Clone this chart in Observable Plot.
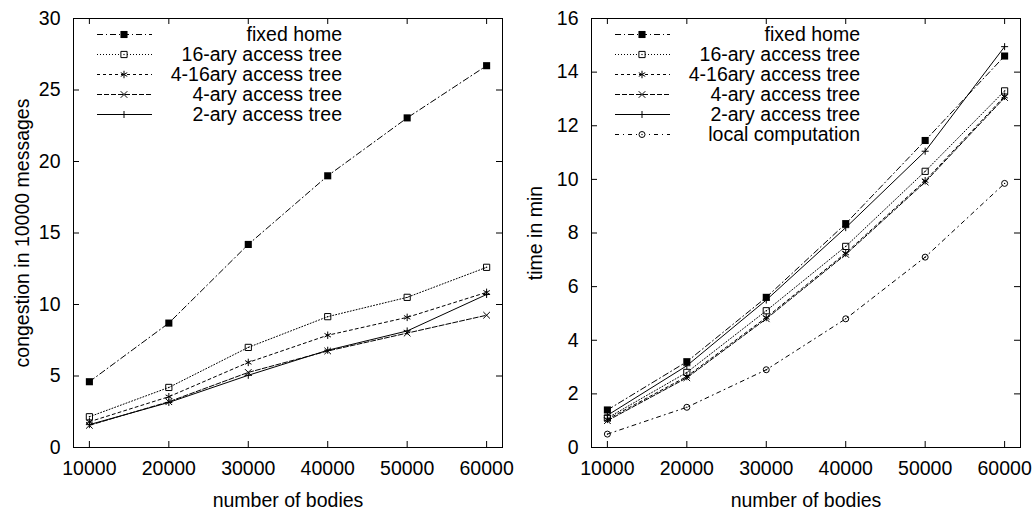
<!DOCTYPE html>
<html><head><meta charset="utf-8">
<script src="https://cdn.jsdelivr.net/npm/d3@7"></script>
<script src="https://cdn.jsdelivr.net/npm/@observablehq/plot@0.6"></script>
<style>
body{margin:0;background:#fff;}
#wrap{position:relative;width:1034px;height:513px;display:flex;}
#wrap svg{display:block;}
#wrap svg text{font-size:19.5px;font-family:'Liberation Sans', Arial, Helvetica, sans-serif;}
</style></head><body><div id="wrap"></div>
<script>
// ---- data ----
const bodies = [10000, 20000, 30000, 40000, 50000, 60000];
const xTicks = [10000, 20000, 30000, 40000, 50000, 60000];
const congestionTicks = [0, 5, 10, 15, 20, 25, 30];
const timeTicks = [0, 2, 4, 6, 8, 10, 12, 14, 16];

const congFixedHome = [4.6, 8.7, 14.2, 19.0, 23.05, 26.7];
const cong16ary     = [2.15, 4.2, 7.0, 9.15, 10.5, 12.6];
const cong4_16ary   = [1.8, 3.55, 5.95, 7.85, 9.1, 10.85];
const cong4ary      = [1.55, 3.2, 5.25, 6.75, 8.0, 9.25];
const cong2ary      = [1.6, 3.15, 5.05, 6.8, 8.15, 10.7];

const timeFixedHome = [1.4, 3.2, 5.6, 8.35, 11.45, 14.6];
const time16ary     = [1.1, 2.8, 5.1, 7.5, 10.3, 13.3];
const time4_16ary   = [1.05, 2.65, 4.85, 7.25, 9.95, 13.1];
const time4ary      = [1.0, 2.6, 4.8, 7.2, 9.9, 13.05];
const time2ary      = [1.2, 3.05, 5.5, 8.2, 11.05, 14.95];
const timeLocal     = [0.5, 1.5, 2.9, 4.8, 7.1, 9.85];

const leftSeries  = ["fixed home", "16-ary access tree", "4-16ary access tree", "4-ary access tree", "2-ary access tree"];
const rightSeries = ["fixed home", "16-ary access tree", "4-16ary access tree", "4-ary access tree", "2-ary access tree", "local computation"];

// ---- styles ----
const FONT = "'Liberation Sans', Arial, Helvetica, sans-serif";
const FS = 19.5;
const sty = {
  "fixed home":          {dash: "6,3,1,3", symbol: "square",   r: 4.0, filled: true},
  "16-ary access tree":  {dash: "1,2",     symbol: "square",   r: 3.5, filled: false, center: true},
  "4-16ary access tree": {dash: "3,3",     symbol: "asterisk", r: 3.5, filled: false},
  "4-ary access tree":   {dash: "5,2",     symbol: "times",    r: 3.1, filled: false},
  "2-ary access tree":   {dash: null,      symbol: "plus",     r: 2.4, filled: false},
  "local computation":   {dash: "4,4,1,4", symbol: "circle",   r: 3.0, filled: false, center: true}
};
const d3sym = {square: d3.symbolSquare, asterisk: d3.symbolAsterisk, times: d3.symbolTimes, plus: d3.symbolPlus, circle: d3.symbolCircle};

function panel({names, values, yDomain, yTicks, yLabel, W, mL, mR, labelDx}) {
  const H = 513, mT = 18, mB = 66;
  const plotW = W - mL - mR, plotH = H - mT - mB;
  const marks = [];
  names.forEach((n, i) => {
    const rows = bodies.map((b, j) => ({x: b, y: values[i][j]}));
    const s = sty[n];
    marks.push(Plot.line(rows, {x: "x", y: "y", stroke: "black", strokeWidth: 1, strokeDasharray: s.dash || undefined}));
    marks.push(Plot.dot(rows, {x: "x", y: "y", symbol: s.symbol, r: s.r,
      fill: s.filled ? "black" : "none", stroke: s.filled ? "none" : "black", strokeWidth: 1}));
    if (s.center) marks.push(Plot.dot(rows, {x: "x", y: "y", r: 0.7, fill: "black", stroke: "none"}));
  });
  const svg = Plot.plot({
    width: W, height: H,
    marginLeft: mL, marginRight: mR, marginTop: mT, marginBottom: mB,
    style: {fontFamily: FONT, fontSize: FS + "px", color: "black", background: "white", overflow: "visible"},
    x: {domain: [8000, 62000]},
    y: {domain: yDomain},
    marks: [
      Plot.frame({stroke: "black", strokeWidth: 1}),
      Plot.tickX(xTicks, {x: d => d, insetTop: plotH - 6, stroke: "black"}),
      Plot.tickX(xTicks, {x: d => d, insetBottom: plotH - 6, stroke: "black"}),
      Plot.tickY(yTicks, {y: d => d, insetRight: plotW - 6, stroke: "black"}),
      Plot.tickY(yTicks, {y: d => d, insetLeft: plotW - 6, stroke: "black"}),
      Plot.axisX({ticks: xTicks, tickFormat: d => String(d), tickSize: 0, tickPadding: 14, label: null, fontSize: FS}),
      Plot.axisY({ticks: yTicks, tickFormat: d => String(d), tickSize: 0, tickPadding: 13, label: null, fontSize: FS}),
      ...marks,
      Plot.text(["number of bodies"], {text: d => d, frameAnchor: "bottom", lineAnchor: "middle", textAnchor: "middle", dy: 53, fontSize: FS, fill: "black"}),
      Plot.text([yLabel], {text: d => d, frameAnchor: "left", textAnchor: "middle", lineAnchor: "middle", dx: labelDx, rotate: -90, fontSize: FS, fill: "black"})
    ]
  });
  // legend
  const lg = d3.select(svg).append("g").attr("font-family", FONT).attr("font-size", FS);
  names.forEach((n, i) => {
    const s = sty[n];
    const y = mT + 16.5 + i * 20;
    const x0 = mL + 24, x1 = mL + 79, xm = mL + 51;
    lg.append("line").attr("x1", x0).attr("x2", x1).attr("y1", y).attr("y2", y)
      .attr("stroke", "black").attr("stroke-width", 1).attr("stroke-dasharray", s.dash);
    lg.append("path").attr("transform", `translate(${xm},${y})`)
      .attr("d", d3.symbol(d3sym[s.symbol], s.r * s.r * Math.PI)())
      .attr("fill", s.filled ? "black" : (s.center ? "white" : "none")).attr("stroke", s.filled ? "none" : "black");
    if (s.center) lg.append("circle").attr("cx", xm).attr("cy", y).attr("r", 0.7).attr("fill", "black");
    lg.append("text").attr("x", mL + 269).attr("y", y).attr("dy", "0.35em")
      .attr("text-anchor", "end").attr("fill", "black").text(n);
  });
  return svg;
}

const wrap = document.getElementById("wrap");
wrap.appendChild(panel({
  names: leftSeries,
  values: [congFixedHome, cong16ary, cong4_16ary, cong4ary, cong2ary],
  yDomain: [0, 30], yTicks: congestionTicks, yLabel: "congestion in 10000 messages",
  W: 517, mL: 73, mR: 15, labelDx: -51
}));
wrap.appendChild(panel({
  names: rightSeries,
  values: [timeFixedHome, time16ary, time4_16ary, time4ary, time2ary, timeLocal],
  yDomain: [0, 16], yTicks: timeTicks, yLabel: "time in min",
  W: 517, mL: 74, mR: 14, labelDx: -56
}));
</script></body></html>
